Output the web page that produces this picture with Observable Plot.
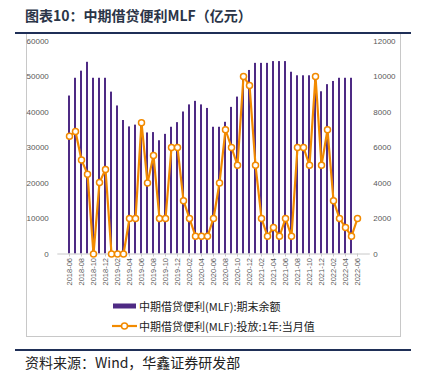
<!DOCTYPE html>
<html><head><meta charset="utf-8">
<script src="https://cdn.jsdelivr.net/npm/d3@7"></script>
<script src="https://cdn.jsdelivr.net/npm/@observablehq/plot@0.6"></script>
<style>
body{margin:0;background:#fff;width:421px;height:378px;position:relative;overflow:hidden;font-family:"Noto Sans CJK SC",sans-serif;}
#title{position:absolute;left:25px;top:5px;font-size:14px;font-weight:bold;color:#2b3548;white-space:nowrap;line-height:20px;}
.rule{position:absolute;left:15px;width:396px;height:2px;background:#1f2f57;}
#frame{position:absolute;left:26px;top:34px;width:375px;height:303px;border:1px solid #c8c8c8;border-top:none;box-sizing:border-box;}
#chart{position:absolute;left:0;top:0;}
.legtext{position:absolute;font-size:11px;color:#222;white-space:nowrap;line-height:14px;}
#source{position:absolute;left:25px;top:353px;font-size:14px;color:#222;white-space:nowrap;line-height:19px;}
</style>
</head><body>
<div id="title">图表10：中期借贷便利MLF（亿元）</div>
<div class="rule" style="top:32px"></div>
<div id="frame"></div>
<div id="chart"></div>
<div id="legend"></div>
<div class="rule" style="top:349px"></div>
<div id="source">资料来源：Wind，华鑫证券研发部</div>
<script>
const months = ["2018-06","2018-07","2018-08","2018-09","2018-10","2018-11","2018-12",
"2019-01","2019-02","2019-03","2019-04","2019-05","2019-06","2019-07","2019-08","2019-09","2019-10","2019-11","2019-12",
"2020-01","2020-02","2020-03","2020-04","2020-05","2020-06","2020-07","2020-08","2020-09","2020-10","2020-11","2020-12",
"2021-01","2021-02","2021-03","2021-04","2021-05","2021-06","2021-07","2021-08","2021-09","2021-10","2021-11","2021-12",
"2022-01","2022-02","2022-03","2022-04","2022-05","2022-06"];
// 期末余额 (left axis), 2018-06 .. 2022-05
const balance = [44500,49500,51500,54000,49500,49500,49500,
45600,41700,37600,35800,36300,37100,34100,34200,31900,33700,35700,37000,
40000,42000,43000,42000,41000,35700,35700,37100,41300,44200,49000,51700,
53700,53700,53700,54200,54200,54200,51200,50200,50200,50200,50200,45700,
47700,48600,49500,49500,49500];
// 投放:1年:当月值 (right axis), 2018-06 .. 2022-06
const issuance = [6630,6900,5300,4500,0,4035,4760,
0,0,0,2000,2000,7400,4000,5550,2000,2000,6000,6000,
3000,2000,1000,1000,1000,2000,4000,7000,6000,5000,10000,9500,
5000,2000,1000,1500,1000,2000,1000,6000,6000,5000,10000,5000,
7000,3000,2000,1500,1000,2000];
const leftTicks = [0,10000,20000,30000,40000,50000,60000];
const rightTicks = [0,2000,4000,6000,8000,10000,12000];
const seriesNames = ["中期借贷便利(MLF):期末余额","中期借贷便利(MLF):投放:1年:当月值"];
const purple = "#4e2a84", orange = "#f28a00";
const ratio = 60000/12000;

const barData = balance.map((v,i)=>({month:months[i], value:v}));
const lineData = issuance.map((v,i)=>({month:months[i], value:v}));

const chart = Plot.plot({
  width: 421, height: 300,
  marginTop: 40.5, marginBottom: 46.5, marginLeft: 57.3, marginRight: 51.2,
  style: {fontFamily: "Arial, 'Liberation Sans', sans-serif", fontSize: "8px", color: "#595959", background: "transparent", overflow: "visible"},
  x: {type: "band", domain: months, padding: 0.6},
  y: {domain: [0, 60000]},
  marks: [
    Plot.barY(barData, {x: "month", y: "value", fill: purple}),
    Plot.ruleY([0], {stroke: "#c8c8c8"}),
    Plot.axisY(leftTicks, {anchor: "left", tickSize: 0, tickPadding: 9, label: null, tickFormat: d => String(d), fill: "#595959"}),
    Plot.axisY(rightTicks.map(v => v*ratio), {anchor: "right", tickSize: 0, tickPadding: 3, label: null, tickFormat: d => String(d/ratio), fill: "#595959"}),
    Plot.axisX(months.filter((d,i) => i%2 === 0), {tickRotate: -90, tickSize: 3, tickPadding: 1, label: null, stroke: "#c8c8c8", fill: "#595959", fontSize: 7.5}),
    Plot.line(lineData, {x: "month", y: d => d.value*ratio, stroke: orange, strokeWidth: 2.2}),
    Plot.dot(lineData, {x: "month", y: d => d.value*ratio, r: 3, fill: "white", stroke: orange, strokeWidth: 1.5})
  ]
});
document.getElementById("chart").appendChild(chart);

const leg = document.getElementById("legend");
leg.innerHTML = `
<svg style="position:absolute;left:0;top:0" width="421" height="378">
  <rect x="113" y="303.5" width="23" height="5" fill="${purple}"></rect>
  <line x1="112" x2="137" y1="326" y2="326" stroke="${orange}" stroke-width="2.2"></line>
  <circle cx="124.5" cy="326" r="3" fill="white" stroke="${orange}" stroke-width="1.5"></circle>
</svg>
<div class="legtext" style="left:139px;top:299px">${seriesNames[0]}</div>
<div class="legtext" style="left:139px;top:319px">${seriesNames[1]}</div>`;
</script>
</body></html>
